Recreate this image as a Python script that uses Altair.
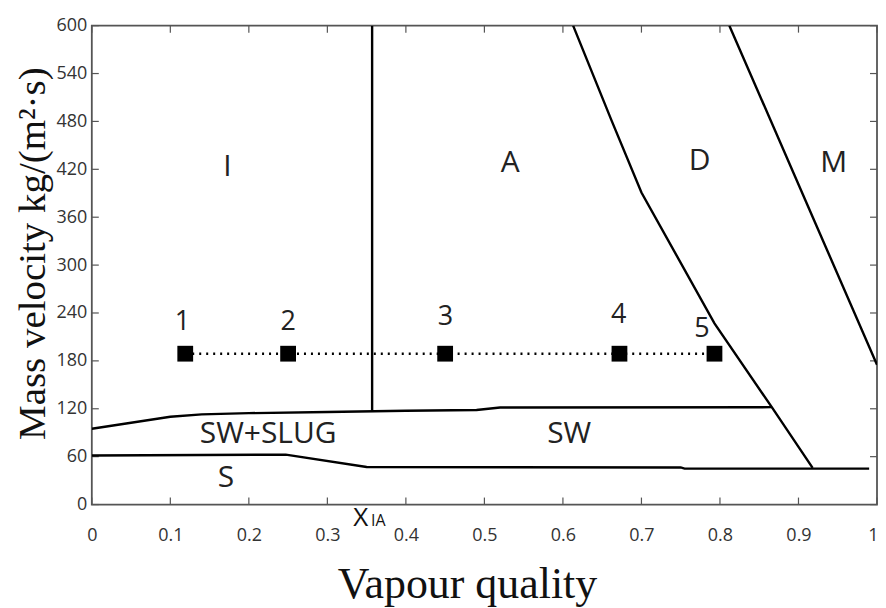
import altair as alt
import pandas as pd

# ---------------- data ----------------
x_ticks = [0, 0.1, 0.2, 0.3, 0.4, 0.5, 0.6, 0.7, 0.8, 0.9, 1]
y_ticks = [0, 60, 120, 180, 240, 300, 360, 420, 480, 540, 600]

# boundary I / A (vertical)
ia_x = [0.357, 0.357]
ia_y = [600, 117.5]
# upper boundary of stratified-wavy regions
sw_top_x = [0.0, 0.1, 0.14, 0.2, 0.3, 0.4, 0.49, 0.52, 0.866]
sw_top_y = [95, 110, 113, 114.5, 116, 117.5, 118.5, 121.5, 122]
# lower boundary (S)
s_top_x = [0.0, 0.247, 0.35, 0.75, 0.755, 0.99]
s_top_y = [61.5, 62.5, 47, 46.5, 45, 45]
# boundary A / D
ad_x = [0.613, 0.662, 0.700, 0.793, 0.866, 0.918]
ad_y = [600, 481, 391, 227, 122, 46]
# boundary D / M
dm_x = [0.812, 0.92, 1.0]
dm_y = [600, 356, 175]

# test points
pt_x = [0.119, 0.25, 0.45, 0.672, 0.793]
pt_y = [189, 189, 189, 189, 189]
pt_lab = ["1", "2", "3", "4", "5"]
pt_lab_x = [0.1155, 0.25, 0.4505, 0.671, 0.777]
pt_lab_y = [229, 229, 235, 237, 220]

# region labels
reg_lab = ["I", "A", "D", "M", "SW+SLUG", "SW", "S"]
reg_x = [0.1726, 0.533, 0.774, 0.945, 0.2246, 0.608, 0.171]
reg_y = [422.5, 427.5, 430, 427.5, 88.75, 88.75, 33.75]

# ---------------- tables ----------------
rows = []
for name, xs_, ys_ in [("IA", ia_x, ia_y), ("SWtop", sw_top_x, sw_top_y),
                       ("Stop", s_top_x, s_top_y), ("AD", ad_x, ad_y),
                       ("DM", dm_x, dm_y)]:
    for i, (a, b) in enumerate(zip(xs_, ys_)):
        rows.append({"x": a, "y": b, "series": name, "order": i})
lines_df = pd.DataFrame(rows)
pts_df = pd.DataFrame({"x": pt_x, "y": pt_y})
ptlab_df = pd.DataFrame({"x": pt_lab_x, "y": pt_lab_y, "t": pt_lab})
reg_df = pd.DataFrame({"x": reg_x, "y": reg_y, "t": reg_lab})
xt_df = pd.DataFrame({"x": x_ticks})
yt_df = pd.DataFrame({"y": y_ticks})
xia_big = pd.DataFrame({"x": [0.3425], "y": [-27], "t": ["X"]})
xia_sub = pd.DataFrame({"x": [0.3555], "y": [-27], "t": ["IA"]})

W, H = 787, 480
xs = alt.Scale(domain=[0, 1], nice=False, zero=False)
ys = alt.Scale(domain=[0, 600], nice=False, zero=False)

x_axis = alt.Axis(values=x_ticks, format=".1~f", ticks=False, tickSize=0, domain=False,
                  grid=False, labelFlush=False,
                  labelAlign={"condition": {"test": "datum.value == 1", "value": "right"},
                              "value": "center"},
                  labelOffset={"condition": {"test": "datum.value == 1", "value": 1},
                               "value": 0},
                  labelFont="Open Sans", labelFontSize=18,
                  labelColor="#333", labelPadding=22, title="Vapour quality",
                  titleFont="Liberation Serif", titleFontSize=44, titleFontWeight="normal",
                  titleColor="#111", titleX=376, titleY=93, titleBaseline="alphabetic",
                  titleAlign="center")
y_axis = alt.Axis(values=y_ticks, ticks=False, tickSize=0, domain=False, grid=False,
                  labelFlush=False, labelFont="Open Sans", labelFontSize=18,
                  labelColor="#333", labelPadding=5, title="Mass velocity kg/(m²·s)",
                  titleFont="Liberation Serif", titleFontSize=39, titleFontWeight="normal",
                  titleColor="#111", titleAngle=270, titleX=-47, titleY=228,
                  titleBaseline="alphabetic", titleAlign="center")

X = alt.X("x:Q", scale=xs, axis=x_axis)
Y = alt.Y("y:Q", scale=ys, axis=y_axis)

lines = alt.Chart(lines_df).mark_line(color="black", strokeWidth=2.4, clip=True).encode(
    x=X, y=Y, detail="series:N", order="order:Q")

dotted = alt.Chart(pts_df).mark_line(color="black", strokeWidth=2.5, strokeDash=[2, 5]).encode(
    x=X, y=Y)

points = alt.Chart(pts_df).mark_point(shape="square", filled=True, size=250,
                                      color="black", opacity=1).encode(x=X, y=Y)

ptlabels = alt.Chart(ptlab_df).mark_text(font="Open Sans", fontSize=27, color="#222",
                                         baseline="middle", align="center").encode(
    x=X, y=Y, text="t:N")

reglabels = alt.Chart(reg_df).mark_text(font="Open Sans", fontSize=30, color="#222",
                                        baseline="middle", align="center").encode(
    x=X, y=Y, text="t:N")

xia1 = alt.Chart(xia_big).mark_text(font="Open Sans", fontSize=26, color="#111",
                                    baseline="alphabetic", align="center").encode(
    x=X, y=Y, text="t:N")
xia2 = alt.Chart(xia_sub).mark_text(font="Open Sans", fontSize=16, color="#111",
                                    baseline="alphabetic", align="left").encode(
    x=X, y=Y, text="t:N")

tick_len = 7
tb = alt.Chart(xt_df).mark_rule(color="#555", strokeWidth=1.2).encode(
    x=X, y=alt.value(H), y2=alt.value(H - tick_len))
tt = alt.Chart(xt_df).mark_rule(color="#555", strokeWidth=1.2).encode(
    x=X, y=alt.value(0), y2=alt.value(tick_len))
tl = alt.Chart(yt_df).mark_rule(color="#555", strokeWidth=1.2).encode(
    y=Y, x=alt.value(0), x2=alt.value(tick_len))
tr = alt.Chart(yt_df).mark_rule(color="#555", strokeWidth=1.2).encode(
    y=Y, x=alt.value(W), x2=alt.value(W - tick_len))

chart = alt.layer(tb, tt, tl, tr, lines, dotted, points, ptlabels, reglabels, xia1, xia2).properties(
    width=W, height=H,
    autosize=alt.AutoSizeParams(type="none"),
    padding={"left": 84, "top": 17, "right": 1, "bottom": 103},
    background="white",
).configure_view(stroke="#555", strokeWidth=1.8)

chart.save("out.html", embed_options={"renderer": "svg", "actions": False})
